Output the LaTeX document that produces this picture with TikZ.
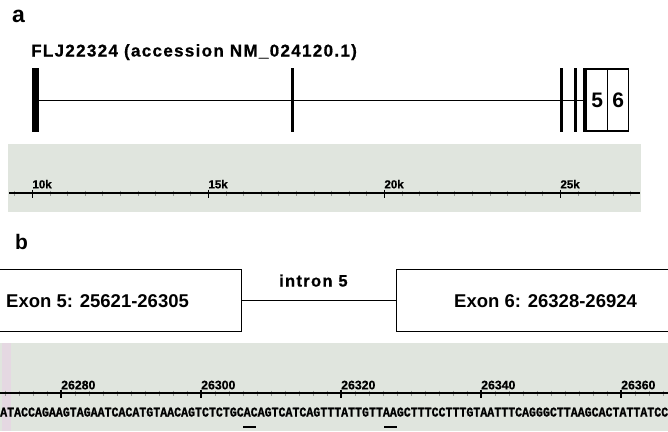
\documentclass[tikz,border=0pt]{standalone}
\usepackage{fontspec}
\setmainfont{Liberation Sans}
\newfontfamily\seqfont[FakeStretch=0.87,FakeBold=1.2]{Liberation Mono}
\definecolor{band}{RGB}{224,229,222}
\definecolor{strip}{RGB}{229,216,226}
\definecolor{minortick}{RGB}{150,153,150}
\tikzset{
  exonbar/.style={rectangle, fill=black, draw=none, inner sep=0, minimum height=63.4},
  exonbox/.style={rectangle, draw=black, line width=1.1, inner sep=0, minimum width=21, minimum height=62,
    font=\fontsize{21}{22}\selectfont\bfseries},
  bigbox/.style={rectangle, draw=black, line width=1.2, inner sep=0, minimum height=62.2},
  panel/.style={anchor=base west, inner sep=0, font=\bfseries\fontsize{22}{24}\selectfont},
  axlabk/.style={anchor=base west, inner sep=0, font=\bfseries\fontsize{11.5}{12}\selectfont\addfontfeature{FakeBold=0.8}},
  axlabn/.style={anchor=base west, inner sep=0, font=\bfseries\fontsize{12.3}{13}\selectfont\addfontfeature{FakeBold=0.6}},
  exontext/.style={anchor=base west, inner sep=0, font=\bfseries\fontsize{18.5}{20}\selectfont},
  spaced/.style={anchor=base west, inner sep=0, font=\bfseries\fontsize{17}{18}\selectfont\addfontfeature{LetterSpace=7.8,FakeBold=0.8}},
}
\begin{document}
\begin{tikzpicture}[x=1pt,y=-1pt]
\useasboundingbox (0,0) rectangle (668,431);
\clip (0,0) rectangle (668,431);

% ---------------- panel a ----------------
\node[panel, font=\bfseries\fontsize{23}{24}\selectfont] (la) at (12,22.5) {a};
\node[spaced] (title) at (31,56.5) {FLJ22324 (accession NM\_024120.1)};

\node[exonbar, minimum width=6.5] (e1) at (35.6,100) {};
\node[exonbar, minimum width=3] (e2) at (292.5,100) {};
\node[exonbar, minimum width=2.7] (e3) at (561.3,100) {};
\node[exonbar, minimum width=3] (e4) at (575.8,100) {};
\node[exonbar, minimum width=3.4] (e5) at (585,100) {};
\node[exonbox] (x5) at (597.2,100) {5};
\node[exonbox] (x6) at (618.2,100) {6};
\draw[line width=1] (e1.center) -- (e5.center);

% scale band
\fill[band] (8,144) rectangle (641,212);
\foreach \k in {-1,...,34} {
  \draw[minortick, line width=0.8] ({32.3+17.6*\k},190.5) -- ({32.3+17.6*\k},196);
}
\draw[line width=1.7] (9,193) -- (640,193);
\foreach \k/\t in {0/10k,1/15k,2/20k,3/25k} {
  \draw[line width=1.5] ({32.3+176*\k},189.5) -- ({32.3+176*\k},197.5);
  \node[axlabk] (t\k) at ({32.3+176*\k},188.3) {\t};
}

% ---------------- panel b ----------------
\node[panel, font=\bfseries\fontsize{21}{23}\selectfont] (lb) at (15,249) {b};
\node[bigbox, minimum width=242.7] (ex5) at (120.35,300.4) {};
\node[bigbox, minimum width=323.3] (ex6) at (558.35,300.4) {};
\draw[line width=1.2] (ex5.east) -- (ex6.west);
\node[exontext] (t5) at (6,307) {Exon 5: 25621-26305};
\node[exontext] (t6) at (454,307) {Exon 6: 26328-26924};
\node[spaced, font=\bfseries\fontsize{16.5}{18}\selectfont\addfontfeature{LetterSpace=8,FakeBold=0.8}] (intr) at (279,286.5) {intron 5};

% sequence band
\fill[band] (0,343) rectangle (668,431);
\fill[strip] (2,343) rectangle (11,431);
\foreach \k in {-4,...,43} {
  \draw[minortick, line width=0.8] ({61+14*\k},390.5) -- ({61+14*\k},396);
}
\draw[line width=1.7] (0,393) -- (668,393);
\foreach \k/\t in {0/26280,1/26300,2/26320,3/26340,4/26360} {
  \draw[line width=1.5] ({61+140*\k},389.5) -- ({61+140*\k},397.5);
  \node[axlabn] (n\k) at ({61+140*\k},389.3) {\t};
}
\node[anchor=base west, inner sep=0, font=\seqfont\bfseries\fontsize{13.33}{14}\selectfont] (seq) at (0,416.5)
  {ATACCAGAAGTAGAATCACATGTAACAGTCTCTGCACAGTCATCAGTTTATTGTTAAGCTTTCCTTTGTAATTTCAGGGCTTAAGCACTATTATCC};
\draw[line width=1.7] (243,427) -- (256,427);
\draw[line width=1.7] (384,427) -- (397,427);
\end{tikzpicture}
\end{document}
